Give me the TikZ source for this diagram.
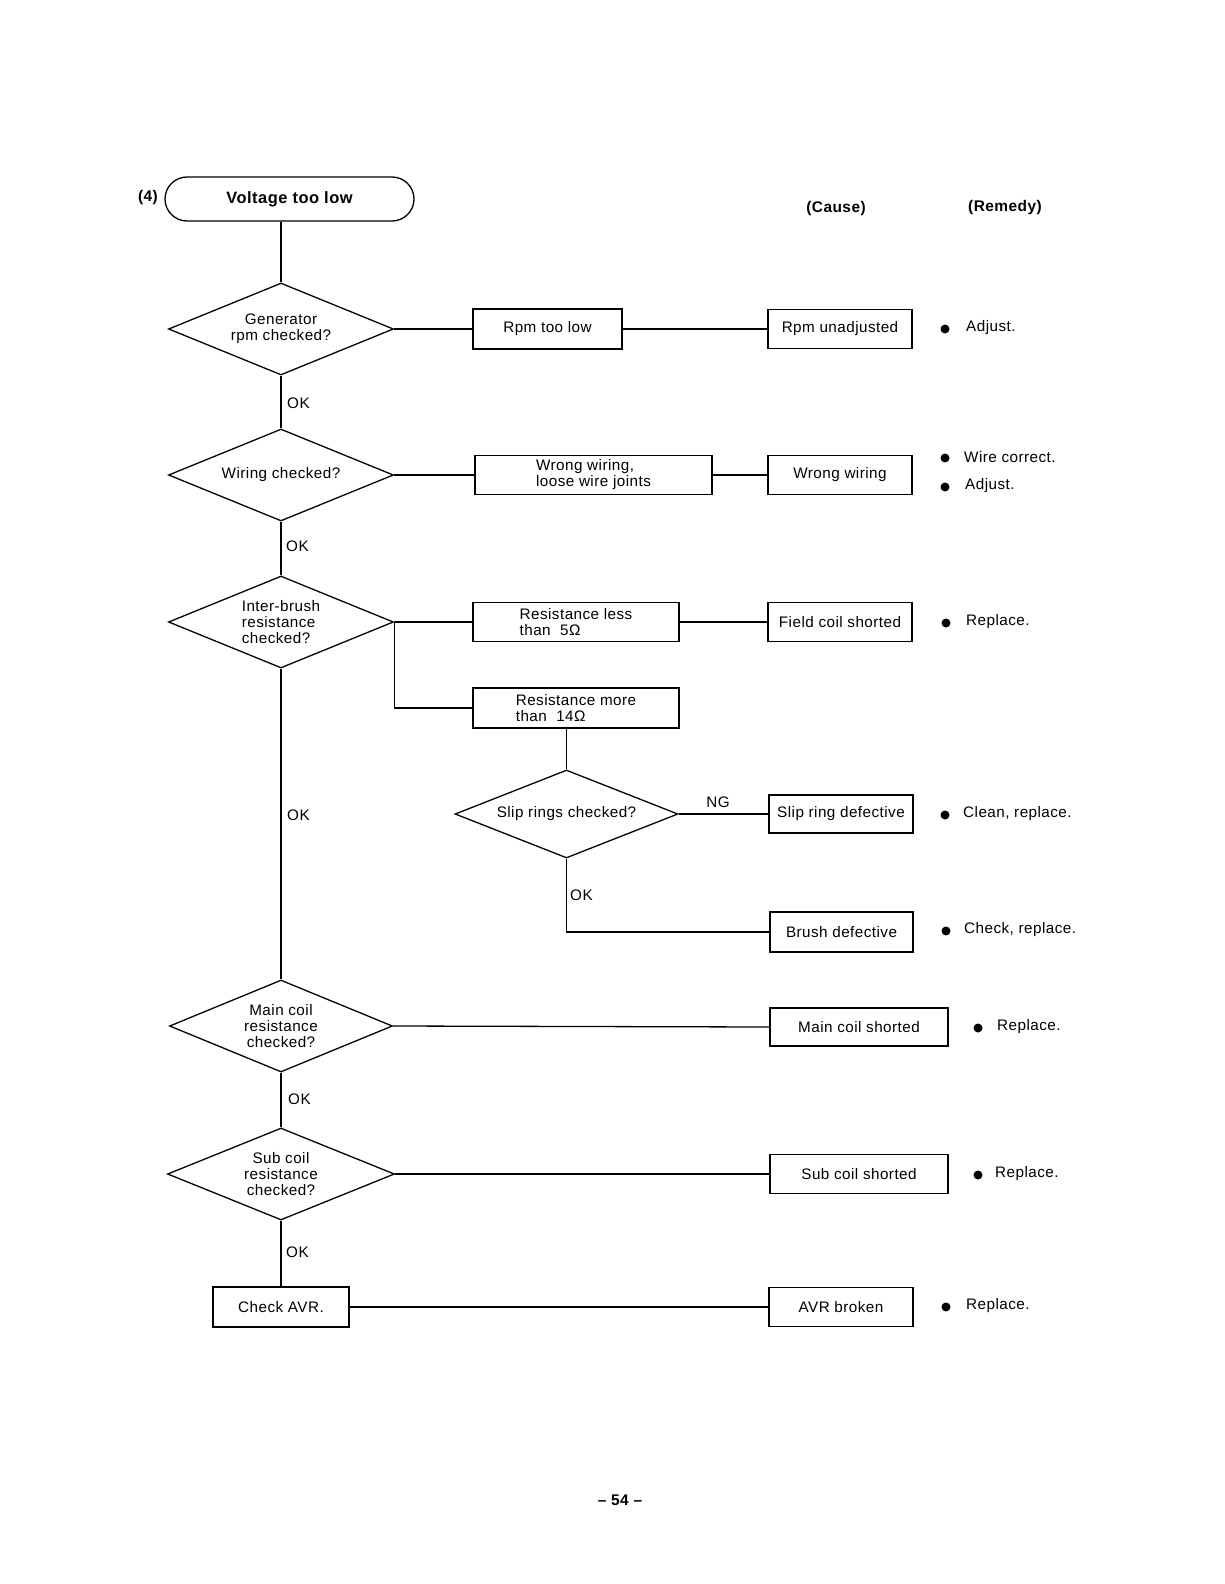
\documentclass[tikz,border=0pt]{standalone}
\usepackage{fontspec}
\setmainfont{Liberation Sans}[LetterSpace=3]
\usetikzlibrary{shapes.geometric}
\newcommand{\fsz}{\fontsize{15.3}{16}\selectfont}
\begin{document}
\begin{tikzpicture}[x=1bp,y=-1bp,
  every node/.style={font=\fsz, inner sep=0pt},
  ln/.style={line width=1.3pt},
  dia/.style={diamond, draw, line width=1.3pt, shape aspect=2.45, minimum width=225bp, minimum height=92bp, inner sep=0pt, align=center},
  box/.style={draw, line width=1.3pt, minimum height=39bp, align=center},
  term/.style={draw, line width=1.3pt, rounded corners=22bp, minimum width=249bp, minimum height=44bp, font=\fontsize{16.5}{18}\selectfont\bfseries},
  hd/.style={font=\fontsize{15.5}{16}\selectfont\bfseries},
  lab/.style={anchor=west},
  rem/.style={anchor=west},
  dot/.style={circle, fill, minimum size=9bp, inner sep=0pt}
]
\useasboundingbox (0,0) rectangle (1224,1584);

% header
\node[hd] (n4) at (148,198) {(4)};
\node[term] (start) at (289.5,199) {Voltage too low};
\node[hd] (cause) at (836,209) {(Cause)};
\node[hd] (remedy) at (1005,208) {(Remedy)};

% row 1
\node[dia] (d1) at (281,329) {Generator\\rpm checked?};
\node[box, minimum width=149bp, minimum height=40bp] (b1) at (547.5,329) {Rpm too low};
\node[box, minimum width=144bp] (c1) at (840,329) {Rpm unadjusted};
\node[dot] (r1d) at (945,329) {};
\node[rem] (r1) at (966,328) {Adjust.};

% row 2
\node[lab] (ok1) at (287,403) {OK};
\node[dia] (d2) at (281,475) {Wiring checked?};
\node[box, minimum width=237bp, align=left] (b2) at (593.5,475) {Wrong wiring,\\ loose wire joints};
\node[box, minimum width=144bp] (c2) at (840,475) {Wrong wiring};
\node[dot] (r2ad) at (945,458) {};
\node[rem] (r2a) at (964,457) {Wire correct.};
\node[dot] (r2bd) at (945,487) {};
\node[rem] (r2b) at (965,486) {Adjust.};

% row 3
\node[lab] (ok2) at (286,546) {OK};
\node[dia, align=left] (d3) at (281,622) {Inter-brush\\resistance\\checked?};
\node[box, minimum width=206bp, align=left] (b3) at (576,622) {Resistance less\\than\ \ 5Ω};
\node[box, minimum width=144bp] (c3) at (840,622) {Field coil shorted};
\node[dot] (r3d) at (946,623) {};
\node[rem] (r3) at (966,622) {Replace.};

\node[box, minimum width=206bp, minimum height=40bp, align=left] (b4) at (576,708) {Resistance more\\than\ \ 14Ω};

% slip rings
\node[dia, minimum width=223bp, minimum height=88bp] (d4) at (566.5,814) {Slip rings checked?};
\node (ng) at (718,802) {NG};
\node[box, minimum width=144bp, minimum height=38bp] (c4) at (841,814) {Slip ring defective};
\node[dot] (r4d) at (945,815) {};
\node[rem] (r4) at (963,814) {Clean, replace.};
\node[lab] (ok3) at (287,815) {OK};
\node[lab] (ok4) at (570,895) {OK};
\node[box, minimum width=143bp, minimum height=40bp] (c5) at (841.5,932) {Brush defective};
\node[dot] (r5d) at (946,931) {};
\node[rem] (r5) at (964,930) {Check, replace.};

% main coil
\node[dia, minimum width=223bp] (d5) at (281,1026) {Main coil\\resistance\\checked?};
\node[box, minimum width=178bp, minimum height=38bp] (c6) at (859,1027) {Main coil shorted};
\node[dot] (r6d) at (978,1028) {};
\node[rem] (r6) at (997,1027) {Replace.};
\node[lab] (ok5) at (288,1099) {OK};

% sub coil
\node[dia, minimum width=227bp] (d6) at (281,1174) {Sub coil\\resistance\\checked?};
\node[box, minimum width=178bp] (c7) at (859,1174) {Sub coil shorted};
\node[dot] (r7d) at (978,1175) {};
\node[rem] (r7) at (995,1174) {Replace.};
\node[lab] (ok6) at (286,1252) {OK};

% AVR
\node[box, minimum width=136bp, minimum height=40bp] (avr) at (281,1307) {Check AVR.};
\node[box, minimum width=144bp] (c8) at (841,1307) {AVR broken};
\node[dot] (r8d) at (946,1307) {};
\node[rem] (r8) at (966,1306) {Replace.};

% page number
\node[hd] (page) at (620,1500) {– 54 –};

% connectors
\draw[ln] (d1.north |- start.south) -- (d1.north);
\draw[ln] (d1.east) -- (b1.west);
\draw[ln] (b1.east) -- (c1.west);
\draw[ln] (d1.south) -- (d2.north);
\draw[ln] (d2.east) -- (b2.west);
\draw[ln] (b2.east) -- (c2.west);
\draw[ln] (d2.south) -- (d3.north);
\draw[ln] (d3.east) -- (b3.west);
\draw[ln] (b3.east) -- (c3.west);
\draw[ln] (d3.east) |- (b4.west);
\draw[ln] (d4.north |- b4.south) -- (d4.north);
\draw[ln] (d4.east) -- (c4.west);
\draw[ln] (d4.south) |- (c5.west);
\draw[ln] (d3.south) -- (d5.north);
\draw[ln] (d5.east) -- (c6.west);
\draw[ln] (d5.south) -- (d6.north);
\draw[ln] (d6.east) -- (c7.west);
\draw[ln] (d6.south) -- (avr.north);
\draw[ln] (avr.east) -- (c8.west);
\end{tikzpicture}
\end{document}
